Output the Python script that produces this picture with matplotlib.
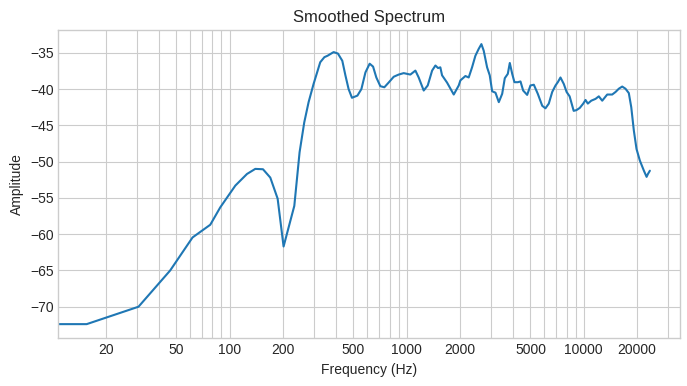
import matplotlib
matplotlib.use("Agg")
import matplotlib.pyplot as plt
from matplotlib.ticker import ScalarFormatter, NullFormatter

# smoothed spectrum (Hz, dB)
freq = [10.8, 15.6, 30.6, 46.2, 61.8, 77.8, 88.6, 107.8, 125.4, 139.7, 154.4,
        169.8, 186.8, 201.8, 232, 248.5, 264, 279.4, 298, 325, 343, 357.7,
        386.8, 409, 433, 450.8, 470, 491, 527, 555, 585, 618, 646, 674, 710,
        748, 791, 845, 901, 962, 1005, 1049, 1120, 1169, 1248, 1315, 1392,
        1453, 1504, 1549, 1584, 1690, 1844, 1968, 2011, 2146, 2240, 2340,
        2444, 2552, 2642, 2722, 2845, 2944, 3038, 3173, 3313, 3462, 3581,
        3724, 3822, 3943, 4060, 4240, 4392, 4547, 4790, 5000, 5224, 5500,
        5826, 6076, 6346, 6633, 6925, 7135, 7386, 7714, 8000, 8320, 8770,
        9090, 9490, 9930, 10230, 10540, 11020, 11650, 12160, 12710, 13560,
        14470, 15110, 15770, 16480, 17200, 17960, 18540, 19170, 19850, 20730,
        21850, 22630, 23030, 23620]
amp = [-72.4, -72.4, -70.0, -65.0, -60.45, -58.7, -56.3, -53.3, -51.7, -51.0,
       -51.05, -52.2, -55.1, -61.7, -56.1, -48.7, -44.6, -41.8, -39.3, -36.3,
       -35.6, -35.4, -34.9, -35.1, -36.1, -38.1, -40.0, -41.2, -40.9, -40.0,
       -37.7, -36.5, -36.9, -38.4, -39.6, -39.75, -39.1, -38.3, -38.0, -37.8,
       -37.9, -38.0, -37.45, -38.4, -40.2, -39.5, -37.45, -36.75, -37.1,
       -37.0, -38.1, -39.1, -40.75, -39.5, -38.8, -38.2, -38.4, -37.0, -35.4,
       -34.45, -33.8, -34.7, -37.0, -38.1, -40.3, -40.5, -41.8, -40.65, -38.5,
       -37.9, -36.4, -37.9, -39.05, -39.05, -38.95, -40.2, -40.8, -39.5, -39.4,
       -40.65, -42.3, -42.65, -42.0, -40.4, -39.5, -39.05, -38.4, -39.3,
       -40.4, -41.0, -43.0, -42.9, -42.6, -42.0, -41.5, -42.0, -41.6, -41.35,
       -41.0, -41.6, -40.75, -40.75, -40.4, -39.95, -39.65, -39.95, -40.55,
       -42.5, -45.7, -48.25, -49.85, -51.25, -52.1, -51.7, -51.25]

xticks = [20, 50, 100, 200, 500, 1000, 2000, 5000, 10000, 20000]

plt.style.use("seaborn-v0_8-whitegrid")
plt.rcParams["font.family"] = ["Liberation Sans", "DejaVu Sans"]

fig, ax = plt.subplots(figsize=(6.87, 3.86), dpi=100)
fig.subplots_adjust(left=0.085, right=0.99, top=0.922, bottom=0.124)

ax.plot(freq, amp, color="#1f77b4", linewidth=1.5)
ax.set_xscale("log")
ax.set_xlim(10.8, 35000)
ax.set_xticks(xticks)
ax.xaxis.set_major_formatter(ScalarFormatter())
ax.xaxis.set_minor_formatter(NullFormatter())
ax.grid(True, which="both")

ax.set_title("Smoothed Spectrum")
ax.set_xlabel("Frequency (Hz)")
ax.set_ylabel("Amplitude")

fig.savefig("out.png", dpi=100)
